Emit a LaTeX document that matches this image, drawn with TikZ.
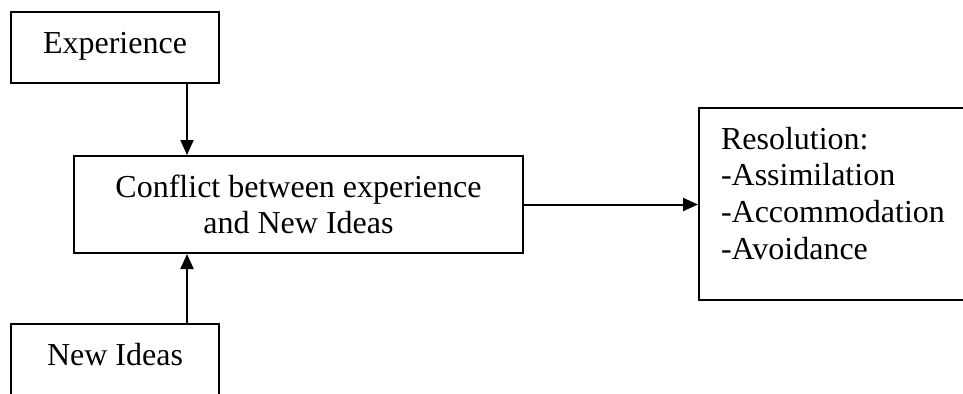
\documentclass[tikz,border=0pt]{standalone}
\usepackage{fontspec}
\setmainfont{Liberation Serif}
\usetikzlibrary{arrows.meta}
\begin{document}
\begin{tikzpicture}[x=0.5pt,y=-0.5pt,
	box/.style={draw,line width=1pt,inner xsep=0pt,inner ysep=0pt,text height=20.5pt,
		font=\fontsize{16}{18.35}\selectfont},
	arr/.style={line width=1pt,-{Triangle[length=7.5pt,width=6.5pt]}}]
	\useasboundingbox (0,0) rectangle (963,393);
	\clip (0,0) rectangle (963,393);
	\node[box,anchor=north,minimum width=104pt,text depth=15pt] (exp) at (115,11) {Experience};
	\node[box,anchor=north,minimum width=104pt,text depth=50pt] (new) at (115,323) {New Ideas};
	\node[box,anchor=north,minimum width=224.5pt,text depth=28pt] (conf) at (298.5,155)
		{\parbox[t]{210pt}{\centering Conflict between experience\\and New Ideas}};
	\node[box,anchor=north west,inner xsep=11pt,text depth=75.5pt] (res) at (698,107)
		{\parbox[t]{150pt}{Resolution:\\-Assimilation\\-Accommodation\\-Avoidance}};
	\draw[arr] ([xshift=36pt]exp.south) -- ([xshift=36pt]exp.south |- conf.north);
	\draw[arr] ([xshift=36pt]new.north) -- ([xshift=36pt]new.north |- conf.south);
	\draw[arr] (conf.east) -- (conf.east -| res.west);
\end{tikzpicture}
\end{document}
